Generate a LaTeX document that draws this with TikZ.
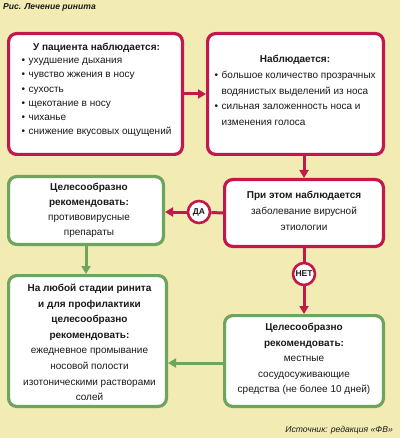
\documentclass[tikz,border=0pt]{standalone}
\usepackage{fontspec}
\setmainfont{Liberation Sans}
\usetikzlibrary{arrows.meta,calc}
\definecolor{bgc}{HTML}{F2ECB4}
\definecolor{redc}{HTML}{C2184C}
\definecolor{greenc}{HTML}{6FA45F}
\definecolor{txt}{HTML}{1A1A1A}
\newcommand\bl{\makebox[7pt][l]{\textbullet}}
\newcommand\ind{\hspace*{7pt}}
\tikzset{
  box/.style={draw, line width=3.2pt, rounded corners=8pt, fill=white, inner sep=0pt},
  redbox/.style={box, draw=redc},
  greenbox/.style={box, draw=greenc},
  txtnode/.style={inner sep=0pt, text=txt, font=\fontsize{10}{15}\selectfont},
  circ/.style={circle, draw=redc, line width=2.6pt, fill=white, minimum size=22pt, inner sep=0pt, text=txt, font=\fontsize{8.5}{9}\selectfont\bfseries},
  redarrow/.style={draw=redc, line width=3pt, -{Triangle[width=9pt,length=8pt]}},
  redline/.style={draw=redc, line width=3pt},
  greenarrow/.style={draw=greenc, line width=3pt, -{Triangle[width=9pt,length=8pt]}},
}
\begin{document}
\begin{tikzpicture}[x=1pt,y=-1pt]
\useasboundingbox (0,0) rectangle (400,438);
\fill[bgc] (0,0) rectangle (400,438);

% title and source
\node[anchor=base west, inner sep=0pt, text=txt, font=\fontsize{8.6}{10}\selectfont\bfseries\itshape] (title) at (3,9.5) {Рис. Лечение ринита};
\node[anchor=base east, inner sep=0pt, text=txt, font=\fontsize{8.6}{10}\selectfont\itshape] (src) at (393,432) {Источник: редакция «ФВ»};

% boxes
\node[redbox, minimum width=173.8pt, minimum height=120.8pt] (b1) at (95.5,94) {};
\node[redbox, minimum width=175.8pt, minimum height=120.8pt] (b2) at (295.5,94) {};
\node[redbox, minimum width=158.8pt, minimum height=66.8pt] (b3) at (304,213) {};
\node[greenbox, minimum width=154.8pt, minimum height=67.8pt] (b4) at (86,210.5) {};
\node[greenbox, minimum width=157.8pt, minimum height=130.8pt] (b5) at (87.5,341) {};
\node[greenbox, minimum width=158.8pt, minimum height=90.8pt] (b6) at (304,361) {};

% texts
\node[txtnode, font=\fontsize{10}{12}\selectfont\bfseries] (t1) at (96.5,48) {У пациента наблюдается:};
\node[txtnode, anchor=west, align=left, font=\fontsize{10}{14.2}\selectfont] (l1) at (21.5,97.5)
  {\bl ухудшение дыхания\\ \bl чувство жжения в носу\\ \bl сухость\\ \bl щекотание в носу\\ \bl чиханье\\ \bl снижение вкусовых ощущений};

\node[txtnode, font=\fontsize{10}{12}\selectfont\bfseries] (t2) at (295,60) {Наблюдается:};
\node[txtnode, anchor=west, align=left, font=\fontsize{10}{15.5}\selectfont] (l2) at (214.5,98.5)
  {\bl большое количество прозрачных\\ \ind водянистых выделений из носа\\ \bl сильная заложенность носа и\\ \ind изменения голоса};

\node[txtnode, align=center, font=\fontsize{10}{16}\selectfont] (t3) at (304,211)
  {{\bfseries При этом наблюдается}\\ заболевание вирусной\\ этиологии};

\node[txtnode, align=center, font=\fontsize{10}{15}\selectfont] (t4) at (89,210.5)
  {{\bfseries Целесообразно}\\ {\bfseries рекомендовать:}\\ противовирусные\\ препараты};

\node[txtnode, align=center, font=\fontsize{10}{15.6}\selectfont] (t5) at (89.5,342.5)
  {{\bfseries На любой стадии ринита}\\ {\bfseries и для профилактики}\\ {\bfseries целесообразно}\\ {\bfseries рекомендовать:}\\ ежедневное промывание\\ носовой полости\\ изотоническими растворами\\ солей};

\node[txtnode, align=center, font=\fontsize{10}{15.5}\selectfont] (t6) at (304,359)
  {{\bfseries Целесообразно}\\ {\bfseries рекомендовать:}\\ местные\\ сосудосуживающие\\ средства (не более 10 дней)};

% decision circles
\node[circ] (da) at (199,212) {ДА};
\node[circ] (net) at (304,274) {НЕТ};

% connectors
\draw[redarrow] (b1.east) -- (b2.west);
\draw[redarrow] (b3.north |- b2.south) -- (b3.north);
\draw[redline] (b3.west) -- (da);
\draw[redarrow] (da) -- (da -| b4.east);
\draw[redline] (b3.south) -- (net);
\draw[redarrow] (net) -- (b6.north);
\draw[greenarrow] (b4.south) -- (b4.south |- b5.north);
\draw[greenarrow] ($(b6.west)+(0,2)$) -- ($(b6.west -| b5.east)+(0,2)$);
\end{tikzpicture}
\end{document}
